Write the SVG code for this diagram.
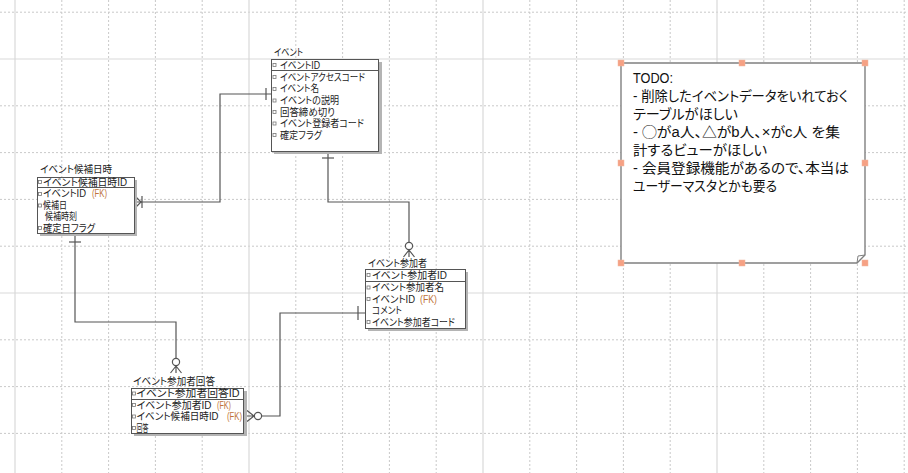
<svg xmlns="http://www.w3.org/2000/svg" width="908" height="473" viewBox="0 0 908 473">
<style>
.gd{stroke:#c9c9c9;stroke-width:1;stroke-dasharray:2 2;fill:none}
.gs{stroke:#d9d9d9;stroke-width:1.2;fill:none}
.box{fill:#fff;stroke:#555;stroke-width:1}
.sh{fill:#b4b4b4}
.sep{stroke:#555;stroke-width:1}
.t{font-family:"Liberation Sans","Noto Sans CJK JP",sans-serif;font-size:10px;fill:#1a1a1a;font-feature-settings:"palt"}
.fk{fill:#c0733a}
.ic{fill:#fff;stroke:#777;stroke-width:0.8}
.cn{fill:none;stroke:#555;stroke-width:1.2}
.ci{fill:#fff;stroke:#555;stroke-width:1.2}
.note{font-family:"Liberation Sans","Noto Sans CJK JP",sans-serif;font-size:14px;fill:#111;font-feature-settings:"palt"}
.h{fill:#f6a184;stroke:#f0b8a0;stroke-width:0.5}
</style>
<g id="grid">
<path class="gd" d="M61.8,0V473M108.6,0V473M155.4,0V473M202.2,0V473M295.8,0V473M342.6,0V473M389.4,0V473M436.2,0V473M529.8,0V473M576.6,0V473M623.4,0V473M670.2,0V473M763.8,0V473M810.6,0V473M857.4,0V473M904.2,0V473"/>
<path class="gd" d="M0,12.2H908M0,105.8H908M0,152.6H908M0,199.4H908M0,246.2H908M0,339.8H908M0,386.6H908M0,433.4H908"/>
<path class="gs" d="M15,0V473M249,0V473M483,0V473M717,0V473M0,59H908M0,293H908"/>
</g>
<g id="connectors">
<path class="cn" d="M271,94H220V202H135"/>
<path class="cn" d="M266,88V100"/>
<path class="cn" d="M135,196L141,202L135,208M142,196V208"/>
<path class="cn" d="M328,151V202H409V242"/>
<path class="cn" d="M322,158H334"/>
<circle class="ci" cx="409" cy="246" r="3.6"/>
<path class="cn" d="M409,249.6V257M409,250L403.5,257M409,250L414.5,257"/>
<path class="cn" d="M75,233V322H176V358"/>
<path class="cn" d="M69,242H81"/>
<circle class="ci" cx="176" cy="362" r="3.6"/>
<path class="cn" d="M176,365.6V373M176,366L170.5,373M176,366L181.5,373"/>
<path class="cn" d="M365,313H280V416H262"/>
<path class="cn" d="M358,306V320"/>
<circle class="ci" cx="258" cy="416" r="3.6"/>
<path class="cn" d="M254.4,416H247M254,416L247,410.5M254,416L247,421.5"/>
</g>
<g id="event">
<text class="t" x="274" y="56" textLength="29" lengthAdjust="spacingAndGlyphs">イベント</text>
<rect class="sh" x="274" y="62" width="108" height="92"/>
<rect class="box" x="271.5" y="59.5" width="107" height="92"/>
<line class="sep" x1="271.5" y1="70.5" x2="378.5" y2="70.5"/>
<rect class="ic" x="273" y="63.5" width="3" height="3"/>
<text class="t" x="280" y="68.5" textLength="40" lengthAdjust="spacingAndGlyphs">イベントID</text>
<rect class="ic" x="273" y="75.5" width="3" height="3"/>
<text class="t" x="280" y="80.5" textLength="85" lengthAdjust="spacingAndGlyphs">イベントアクセスコード</text>
<rect class="ic" x="273" y="87.5" width="3" height="3"/>
<text class="t" x="280" y="92.3" textLength="39" lengthAdjust="spacingAndGlyphs">イベント名</text>
<rect class="ic" x="273" y="99" width="3" height="3"/>
<text class="t" x="280" y="104" textLength="59" lengthAdjust="spacingAndGlyphs">イベントの説明</text>
<rect class="ic" x="273" y="110.5" width="3" height="3"/>
<text class="t" x="280" y="115.5" textLength="55" lengthAdjust="spacingAndGlyphs">回答締め切り</text>
<rect class="ic" x="273" y="122" width="3" height="3"/>
<text class="t" x="280" y="127" textLength="84" lengthAdjust="spacingAndGlyphs">イベント登録者コード</text>
<rect class="ic" x="273" y="133.5" width="3" height="3"/>
<text class="t" x="280" y="138.5" textLength="42" lengthAdjust="spacingAndGlyphs">確定フラグ</text>
</g>
<g id="candidate">
<text class="t" x="40" y="172.5" textLength="72" lengthAdjust="spacingAndGlyphs">イベント候補日時</text>
<rect class="sh" x="40" y="180" width="97" height="56"/>
<rect class="box" x="37.5" y="177.5" width="97" height="56"/>
<line class="sep" x1="37.5" y1="187.5" x2="134.5" y2="187.5"/>
<rect class="ic" x="38.5" y="180.5" width="3" height="3"/>
<text class="t" x="43" y="185.5" textLength="84" lengthAdjust="spacingAndGlyphs">イベント候補日時ID</text>
<rect class="ic" x="38.5" y="192.5" width="3" height="3"/>
<text class="t" x="43" y="197.3" textLength="43" lengthAdjust="spacingAndGlyphs">イベントID</text>
<text class="t fk" x="92" y="197.3" textLength="15" lengthAdjust="spacingAndGlyphs">(FK)</text>
<rect class="ic" x="38.5" y="204" width="3" height="3"/>
<text class="t" x="43" y="208.8" textLength="24" lengthAdjust="spacingAndGlyphs">候補日</text>
<text class="t" x="45" y="220.3" textLength="32" lengthAdjust="spacingAndGlyphs">候補時刻</text>
<rect class="ic" x="38.5" y="226.5" width="3" height="3"/>
<text class="t" x="43" y="231.8" textLength="52" lengthAdjust="spacingAndGlyphs">確定日フラグ</text>
</g>
<g id="participant">
<text class="t" x="368" y="266.5" textLength="59" lengthAdjust="spacingAndGlyphs">イベント参加者</text>
<rect class="sh" x="368" y="272" width="100" height="59"/>
<rect class="box" x="365.5" y="269.5" width="100" height="59"/>
<line class="sep" x1="365.5" y1="281.5" x2="465.5" y2="281.5"/>
<rect class="ic" x="367" y="273.5" width="3" height="3"/>
<text class="t" x="372" y="278.5" textLength="75" lengthAdjust="spacingAndGlyphs">イベント参加者ID</text>
<rect class="ic" x="367" y="286" width="3" height="3"/>
<text class="t" x="372" y="290.8" textLength="72" lengthAdjust="spacingAndGlyphs">イベント参加者名</text>
<rect class="ic" x="367" y="297.5" width="3" height="3"/>
<text class="t" x="372" y="302.5" textLength="43" lengthAdjust="spacingAndGlyphs">イベントID</text>
<text class="t fk" x="420" y="302.5" textLength="17" lengthAdjust="spacingAndGlyphs">(FK)</text>
<text class="t" x="372" y="314" textLength="30" lengthAdjust="spacingAndGlyphs">コメント</text>
<rect class="ic" x="367" y="320.5" width="3" height="3"/>
<text class="t" x="372" y="325.5" textLength="83" lengthAdjust="spacingAndGlyphs">イベント参加者コード</text>
</g>
<g id="answer">
<text class="t" x="133" y="385" textLength="82" lengthAdjust="spacingAndGlyphs">イベント参加者回答</text>
<rect class="sh" x="134" y="391" width="113" height="45"/>
<rect class="box" x="131.5" y="388.5" width="112" height="45"/>
<line class="sep" x1="131.5" y1="399.5" x2="243.5" y2="399.5"/>
<rect class="ic" x="132.5" y="392" width="3" height="3"/>
<text class="t" x="136.5" y="397" textLength="103" lengthAdjust="spacingAndGlyphs">イベント参加者回答ID</text>
<rect class="ic" x="132.5" y="403.5" width="3" height="3"/>
<text class="t" x="136.5" y="408.5" textLength="75" lengthAdjust="spacingAndGlyphs">イベント参加者ID</text>
<text class="t fk" x="217" y="408.5" textLength="14" lengthAdjust="spacingAndGlyphs">(FK)</text>
<rect class="ic" x="132.5" y="415" width="3" height="3"/>
<text class="t" x="136.5" y="420" textLength="82" lengthAdjust="spacingAndGlyphs">イベント候補日時ID</text>
<text class="t fk" x="227" y="420" textLength="15" lengthAdjust="spacingAndGlyphs">(FK)</text>
<rect class="ic" x="132.5" y="426.5" width="3" height="3"/>
<text class="t" x="136.5" y="431.5" textLength="12" lengthAdjust="spacingAndGlyphs">回答</text>
</g>
<g id="todo-note">
<path d="M621,63H865V255L857,263H621Z" fill="#fff" stroke="#808080" stroke-width="1.4"/>
<path d="M857,263L858,256L865,255" fill="none" stroke="#808080" stroke-width="1"/>
<text class="note" x="633" y="83" textLength="40" lengthAdjust="spacingAndGlyphs">TODO:</text>
<text class="note" x="633" y="101" textLength="215" lengthAdjust="spacingAndGlyphs">- 削除したイベントデータをいれておく</text>
<text class="note" x="633" y="118.5" textLength="105" lengthAdjust="spacingAndGlyphs">テーブルがほしい</text>
<text class="note" x="633" y="136.5" textLength="207" lengthAdjust="spacingAndGlyphs">- ◯がa人、△がb人、×がc人 を集</text>
<text class="note" x="633" y="154.5" textLength="134" lengthAdjust="spacingAndGlyphs">計するビューがほしい</text>
<text class="note" x="633" y="173" textLength="216" lengthAdjust="spacingAndGlyphs">- 会員登録機能があるので、本当は</text>
<text class="note" x="633" y="191" textLength="144" lengthAdjust="spacingAndGlyphs">ユーザーマスタとかも要る</text>
<rect class="h" x="618" y="60" width="6" height="6"/>
<rect class="h" x="739" y="60" width="6" height="6"/>
<rect class="h" x="862" y="60" width="6" height="6"/>
<rect class="h" x="618" y="160" width="6" height="6"/>
<rect class="h" x="862" y="160" width="6" height="6"/>
<rect class="h" x="618" y="260" width="6" height="6"/>
<rect class="h" x="739" y="260" width="6" height="6"/>
<rect class="h" x="862" y="260" width="6" height="6"/>
</g>
</svg>
